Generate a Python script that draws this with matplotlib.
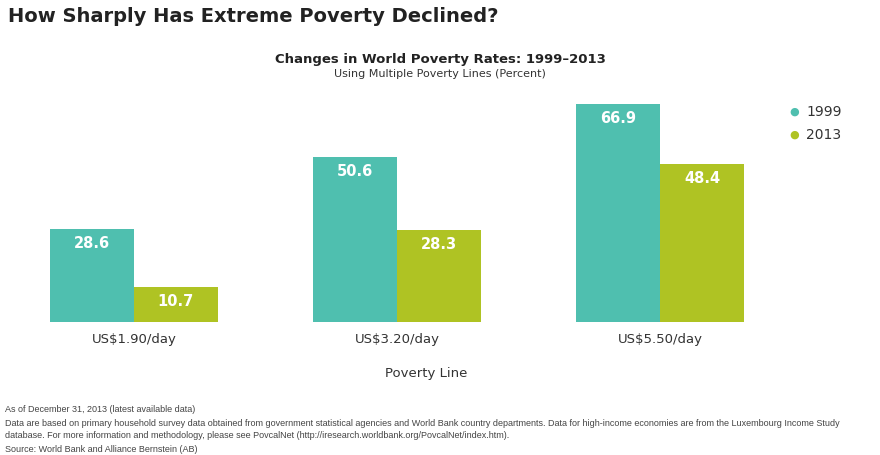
import matplotlib
matplotlib.use("Agg")
import matplotlib.pyplot as plt
import numpy as np

categories = ["US$1.90/day", "US$3.20/day", "US$5.50/day"]
series_names = ["1999", "2013"]
v1999 = [28.6, 50.6, 66.9]
v2013 = [10.7, 28.3, 48.4]
colors = ["#4FBFAF", "#AFC323"]

fig = plt.figure(figsize=(8.8, 4.55), dpi=100)
ax = fig.add_axes([50/880, 1-322/455, 694/880, 218/455])
x = np.arange(len(categories))
w = 0.319
b1 = ax.bar(x - w/2, v1999, w, color=colors[0])
b2 = ax.bar(x + w/2, v2013, w, color=colors[1])
for bars, vals in ((b1, v1999), (b2, v2013)):
    for r, v in zip(bars, vals):
        ax.text(r.get_x()+r.get_width()/2, v - 2.2, f"{v:.1f}", ha="center", va="top",
                color="white", fontsize=10.5, fontweight="bold")
ax.set_xlim(-w, 2 + w)
ax.set_ylim(0, 66.9)
ax.set_yticks([])
ax.set_xticks(x)
ax.set_xticklabels(categories, fontsize=9.5, color="#333333")
ax.tick_params(axis="x", length=0, pad=8)
for s in ax.spines.values():
    s.set_visible(False)
fig.text(426/880, 1-373/455, "Poverty Line", fontsize=9.5, color="#333333",
         ha="center", va="center")

for i, (n, c) in enumerate(zip(series_names, colors)):
    yy = 1 - (112 + i*23)/455
    fig.text(794/880, yy, "\u25CF", color=c, fontsize=8, ha="center", va="center")
    fig.text(806/880, yy, n, fontsize=10, color="#333333", va="center")

fig.text(8/880, 1-17/455, "How Sharply Has Extreme Poverty Declined?", fontsize=14,
         fontweight="bold", color="#222222", va="center")
fig.text(440/880, 1-59/455, "Changes in World Poverty Rates: 1999\u20132013", fontsize=9.5,
         fontweight="bold", color="#222222", ha="center", va="center")
fig.text(440/880, 1-74/455, "Using Multiple Poverty Lines (Percent)", fontsize=8,
         color="#333333", ha="center", va="center")

notes = ["As of December 31, 2013 (latest available data)",
         "Data are based on primary household survey data obtained from government statistical agencies and World Bank country departments. Data for high-income economies are from the Luxembourg Income Study",
         "database. For more information and methodology, please see PovcalNet (http://iresearch.worldbank.org/PovcalNet/index.htm).",
         "Source: World Bank and Alliance Bernstein (AB)"]
for i, t in enumerate(notes):
    fig.text(5/880, 1-(410+i*13)/455, t, fontsize=6.5, family="Liberation Sans",
             color="#444444", va="center")

fig.savefig("out.png", dpi=100)
